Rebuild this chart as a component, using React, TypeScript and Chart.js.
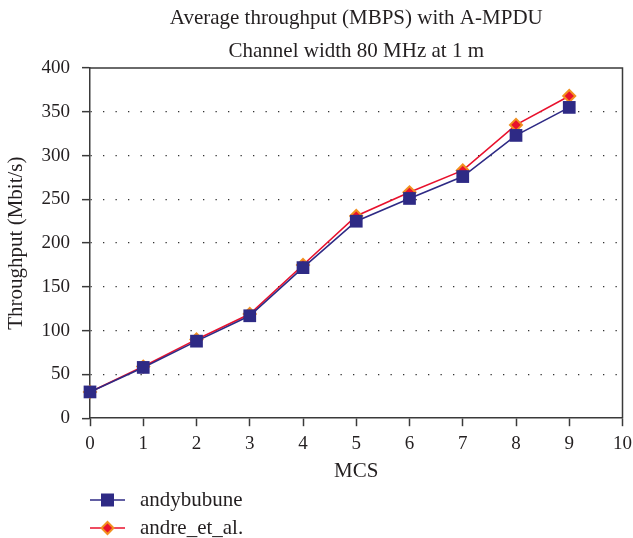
import React, { useEffect, useRef } from "react";
import { Chart, registerables } from "chart.js";

Chart.register(...registerables);

const titleLines = ["Average throughput (MBPS) with A-MPDU", "Channel width 80 MHz at 1 m"];
const xTitle = "MCS";
const yTitle = "Throughput (Mbit/s)";
const mcs = [0, 1, 2, 3, 4, 5, 6, 7, 8, 9];
const seriesNames = ["andybubune", "andre_et_al."];
const andybubune = [30, 58, 88, 117, 172, 225, 251, 276, 323, 355];
const andreEtAl = [30, 59, 90, 119, 175, 231, 258, 283, 335, 368];

const FONT = "'Liberation Serif', 'Times New Roman', serif";
const TEXT = "#231f20";
const AXIS = "#3a3a3a";
const BLUE = "#2e2a85";
const RED = "#e8112d";
const ORANGE = "#f29020";

const framePlugin = {
  id: "frame",
  afterDatasetsDraw(chart: any) {
    const { ctx, chartArea } = chart;
    ctx.save();
    ctx.strokeStyle = AXIS;
    ctx.lineWidth = 1.5;
    ctx.beginPath();
    ctx.moveTo(chartArea.left, chartArea.top);
    ctx.lineTo(chartArea.right, chartArea.top);
    ctx.lineTo(chartArea.right, chartArea.bottom);
    ctx.stroke();
    ctx.restore();
  },
};

const titlePlugin = {
  id: "ctitle",
  afterDraw(chart: any) {
    const { ctx, chartArea } = chart;
    const cx = (chartArea.left + chartArea.right) / 2;
    ctx.save();
    ctx.fillStyle = TEXT;
    ctx.font = `21px ${FONT}`;
    ctx.textAlign = "center";
    ctx.textBaseline = "middle";
    titleLines.forEach((t, i) => ctx.fillText(t, cx, 18 + i * 33));
    ctx.restore();
  },
};

const legendPlugin = {
  id: "vlegend",
  afterDraw(chart: any) {
    const { ctx } = chart;
    const x0 = 90;
    const lineLen = 35;
    const startY = 500;
    const gap = 28;
    ctx.save();
    chart.data.datasets.forEach((ds: any, i: number) => {
      const y = startY + i * gap;
      ctx.strokeStyle = ds.borderColor;
      ctx.lineWidth = 1.5;
      ctx.beginPath();
      ctx.moveTo(x0, y);
      ctx.lineTo(x0 + lineLen, y);
      ctx.stroke();
      const cx = x0 + lineLen / 2;
      ctx.fillStyle = ds.pointBackgroundColor;
      ctx.strokeStyle = ds.pointBorderColor;
      ctx.lineWidth = ds.pointBorderWidth;
      if (ds.pointStyle === "rect") {
        const r = 6.5;
        ctx.fillRect(cx - r, y - r, 2 * r, 2 * r);
      } else {
        const r = 6;
        ctx.beginPath();
        ctx.moveTo(cx, y - r);
        ctx.lineTo(cx + r, y);
        ctx.lineTo(cx, y + r);
        ctx.lineTo(cx - r, y);
        ctx.closePath();
        ctx.fill();
        ctx.stroke();
      }
      ctx.fillStyle = TEXT;
      ctx.font = `21px ${FONT}`;
      ctx.textBaseline = "middle";
      ctx.textAlign = "left";
      ctx.fillText(ds.label, 140, y);
    });
    ctx.restore();
  },
};

export default function App() {
  const ref = useRef<HTMLCanvasElement | null>(null);
  useEffect(() => {
    if (!ref.current) return;
    const chart = new Chart(ref.current, {
      type: "line",
      data: {
        datasets: [
          {
            label: seriesNames[0],
            data: mcs.map((m, i) => ({ x: m, y: andybubune[i] })),
            borderColor: BLUE,
            backgroundColor: BLUE,
            borderWidth: 1.6,
            pointStyle: "rect",
            pointRadius: 9,
            pointBackgroundColor: BLUE,
            pointBorderColor: BLUE,
            pointBorderWidth: 0,
            clip: false,
          },
          {
            label: seriesNames[1],
            data: mcs.map((m, i) => ({ x: m, y: andreEtAl[i] })),
            borderColor: RED,
            backgroundColor: RED,
            borderWidth: 1.6,
            pointStyle: "rectRot",
            pointRadius: 6,
            pointBackgroundColor: RED,
            pointBorderColor: ORANGE,
            pointBorderWidth: 2,
            clip: false,
          },
        ] as any,
      },
      options: {
        animation: false,
        responsive: false,
        layout: { padding: { left: 0, right: 0, top: 68, bottom: 56 } },
        plugins: {
          legend: { display: false },
          tooltip: { enabled: false },
          title: { display: false },
        },
        scales: {
          x: {
            type: "linear",
            min: 0,
            max: 10,
            ticks: { stepSize: 1, color: TEXT, font: { family: FONT, size: 19 }, padding: 6 },
            grid: { drawOnChartArea: false, tickLength: 8, tickColor: AXIS, tickWidth: 1.5 },
            border: { color: AXIS, width: 1.5 },
            title: {
              display: true,
              text: xTitle,
              color: TEXT,
              font: { family: FONT, size: 21, lineHeight: 1.0 },
              padding: { top: 0, bottom: 0 },
            },
          },
          y: {
            min: 0,
            max: 400,
            ticks: { stepSize: 50, color: TEXT, font: { family: FONT, size: 19 }, padding: 12 },
            grid: {
              color: (c: any) => (c.tick && (c.tick.value === 0 || c.tick.value === 400) ? "rgba(0,0,0,0)" : "#333"),
              lineWidth: 1.3,
              tickLength: 8,
              tickColor: AXIS,
              tickWidth: 1.5,
            },
            border: { color: AXIS, width: 1.5, dash: [1.3, 11.2] },
            title: { display: true, text: yTitle, color: TEXT, font: { family: FONT, size: 21 }, padding: { top: 4, bottom: 4 } },
            afterFit: (s: any) => {
              s.width = 90;
            },
          },
        },
      } as any,
      plugins: [framePlugin, titlePlugin, legendPlugin],
    });
    return () => chart.destroy();
  }, []);
  return (
    <div style={{ position: "fixed", left: 0, top: 0, width: 633, height: 538, overflow: "hidden", background: "#fff" }}>
      <canvas ref={ref} width={638} height={538} style={{ display: "block" }} />
    </div>
  );
}
